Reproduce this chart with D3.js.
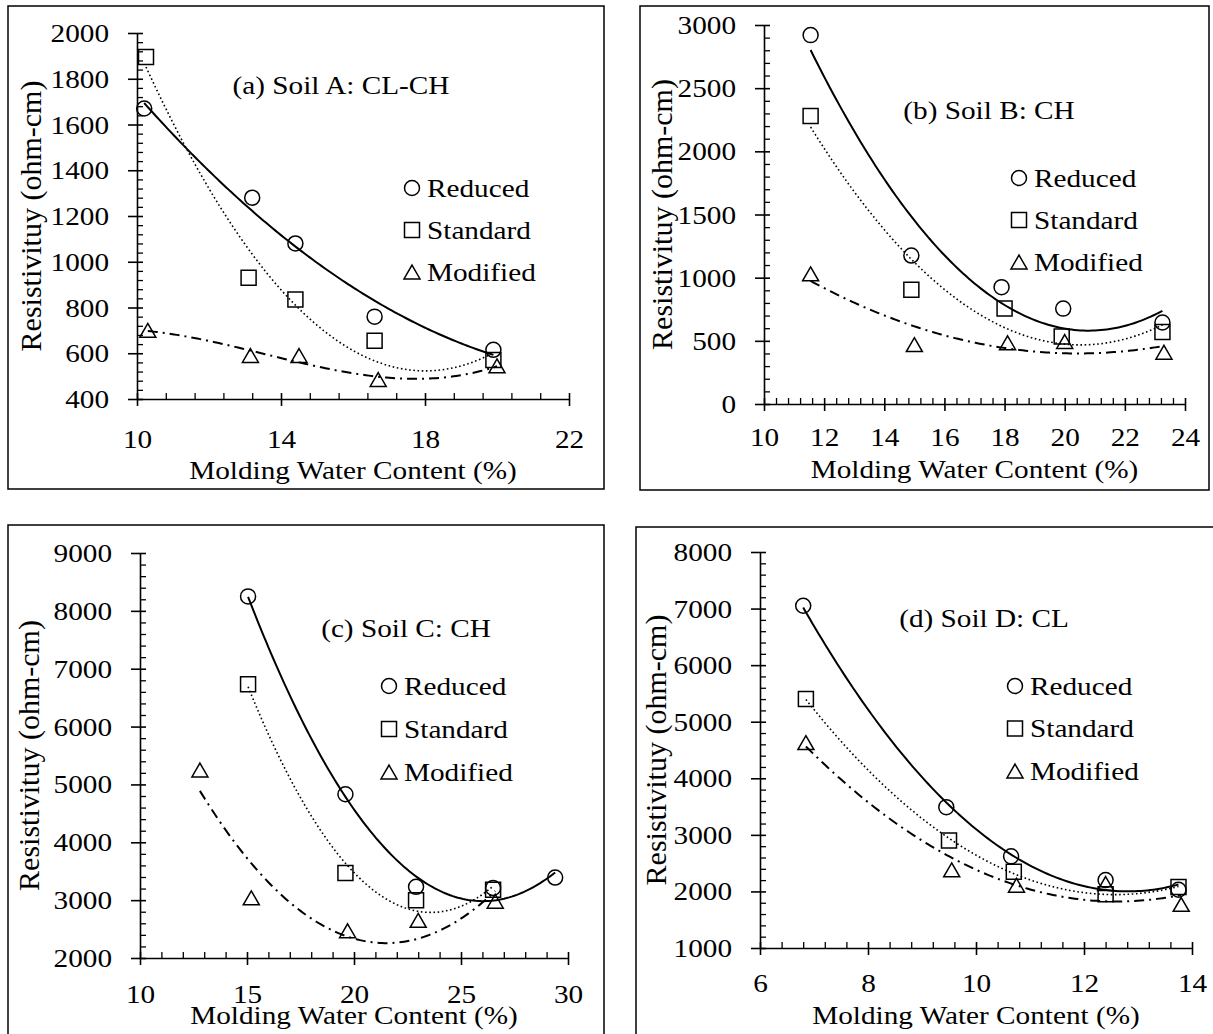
<!DOCTYPE html>
<html>
<head>
<meta charset="utf-8">
<script src="https://cdn.jsdelivr.net/npm/d3@7.9.0/dist/d3.min.js"></script>
<style>
  body { margin: 0; background: #fff; }
  svg { display: block; }
  svg text { font-family: 'Liberation Serif', 'Times New Roman', 'DejaVu Serif', serif; }
</style>
</head>
<body>
<svg id="chart" width="1213" height="1034"></svg>
<script>
// Soil A: CL-CH  (molding water content %, resistivity ohm-cm)
const aReducedW = [10.2, 13.2, 14.4, 16.6, 19.9];
const aReducedR = [1670, 1280, 1080, 760, 615];
const aStandardW = [10.25, 13.1, 14.4, 16.6, 19.9];
const aStandardR = [1895, 930, 835, 655, 570];
const aModifiedW = [10.3, 13.15, 14.5, 16.7, 20.0];
const aModifiedR = [700, 590, 590, 485, 545];

// Soil B: CH
const bReducedW = [11.55, 14.9, 17.9, 19.95, 23.25];
const bReducedR = [2920, 1175, 925, 755, 645];
const bStandardW = [11.55, 14.9, 18.0, 19.9, 23.25];
const bStandardR = [2280, 905, 755, 535, 570];
const bModifiedW = [11.55, 15.0, 18.1, 20.0, 23.3];
const bModifiedR = [1030, 470, 485, 495, 410];

// Soil C: CH
const cReducedW = [15.05, 19.6, 22.9, 26.5, 29.4];
const cReducedR = [8250, 4830, 3230, 3210, 3390];
const cStandardW = [15.05, 19.6, 22.9, 26.5];
const cStandardR = [6730, 3470, 3000, 3180];
const cModifiedW = [12.8, 15.2, 19.7, 23.0, 26.6];
const cModifiedR = [5250, 3040, 2470, 2650, 2980];

// Soil D: CL
const dReducedW = [6.8, 9.45, 10.65, 12.4, 13.75];
const dReducedR = [7050, 3490, 2620, 2200, 2030];
const dStandardW = [6.85, 9.5, 10.7, 12.4, 13.75];
const dStandardR = [5400, 2900, 2350, 1950, 2080];
const dModifiedW = [6.85, 9.55, 10.75, 12.4, 13.8];
const dModifiedR = [4630, 2380, 2110, 2140, 1770];

// axis ticks
const aXTicks = [10, 14, 18, 22];
const aYTicks = [400, 600, 800, 1000, 1200, 1400, 1600, 1800, 2000];
const bXTicks = [10, 12, 14, 16, 18, 20, 22, 24];
const bYTicks = [0, 500, 1000, 1500, 2000, 2500, 3000];
const cXTicks = [10, 15, 20, 25, 30];
const cYTicks = [2000, 3000, 4000, 5000, 6000, 7000, 8000, 9000];
const dXTicks = [6, 8, 10, 12, 14];
const dYTicks = [1000, 2000, 3000, 4000, 5000, 6000, 7000, 8000];

const legendNames = ['Reduced', 'Standard', 'Modified'];
const xTitle = 'Molding Water Content (%)';
const yTitle = 'Resistivituy (ohm-cm)';

const SX = 1.17; // horizontal text is set slightly wide

const symbols = [d3.symbolCircle, d3.symbolSquare, d3.symbolTriangle];
const symbolSizes = [177, 225, 111];
const lineStyles = [
  { width: 2, dash: null },
  { width: 1.6, dash: '1.6 2.6' },
  { width: 2, dash: '10 5 2 5' },
];

const panels = [
  {
    label: '(a) Soil A: CL-CH', frame: [8, 6, 604, 489],
    xDomain: [10, 22], xRange: [137, 569], yDomain: [400, 2000], yRange: [399, 33],
    xTicks: aXTicks, yTicks: aYTicks, xMinor: 0.8, yMinor: 40,
    tickBase: 448, titleBase: 479, yTitleX: 41, labelPos: [341, 94],
    legend: [412, 188, 42], orders: [2, 2, 3],
    series: [[aReducedW, aReducedR], [aStandardW, aStandardR], [aModifiedW, aModifiedR]],
  },
  {
    label: '(b) Soil B: CH', frame: [640, 6, 1209, 490],
    xDomain: [10, 24], xRange: [764, 1185], yDomain: [0, 3000], yRange: [404, 25],
    xTicks: bXTicks, yTicks: bYTicks, xMinor: 0.4, yMinor: 100,
    tickBase: 446, titleBase: 478, yTitleX: 672, labelPos: [989, 119],
    legend: [1019, 178, 42], orders: [2, 2, 2],
    series: [[bReducedW, bReducedR], [bStandardW, bStandardR], [bModifiedW, bModifiedR]],
  },
  {
    label: '(c) Soil C: CH', frame: [8, 525, 604, 1050],
    xDomain: [10, 30], xRange: [140, 568], yDomain: [2000, 9000], yRange: [958, 553],
    xTicks: cXTicks, yTicks: cYTicks, xMinor: 1, yMinor: 200,
    tickBase: 1003, titleBase: 1024, yTitleX: 39, labelPos: [406, 637],
    legend: [389, 686, 43], orders: [2, 2, 2],
    series: [[cReducedW, cReducedR], [cStandardW, cStandardR], [cModifiedW, cModifiedR]],
  },
  {
    label: '(d) Soil D: CL', frame: [636, 527, 1225, 1050],
    xDomain: [6, 14], xRange: [760, 1192], yDomain: [1000, 8000], yRange: [948, 552],
    xTicks: dXTicks, yTicks: dYTicks, xMinor: 0.4, yMinor: 200,
    tickBase: 992, titleBase: 1024, yTitleX: 666, labelPos: [984, 627],
    legend: [1015, 686, 42.5], orders: [2, 2, 2],
    series: [[dReducedW, dReducedR], [dStandardW, dStandardR], [dModifiedW, dModifiedR]],
  },
];

const svg = d3.select('#chart');
svg.append('rect').attr('width', 1213).attr('height', 1034).attr('fill', '#fff');

function wideText(g, str, x, y, anchor) {
  return g.append('text')
    .attr('transform', `translate(${x},${y}) scale(${SX},1)`)
    .attr('text-anchor', anchor)
    .style('font-size', '25px')
    .attr('fill', '#000')
    .text(str);
}

// least-squares polynomial trendline
function polyfit(xs, ys, order) {
  const m = d3.mean(xs);
  const n = order + 1;
  const A = Array.from({ length: n }, () => new Array(n + 1).fill(0));
  xs.forEach((x, i) => {
    const pw = d3.range(2 * n).map((k) => Math.pow(x - m, k));
    for (let r = 0; r < n; r++) {
      for (let c = 0; c < n; c++) A[r][c] += pw[r + c];
      A[r][n] += pw[r] * ys[i];
    }
  });
  for (let p = 0; p < n; p++) {
    let best = p;
    for (let r = p + 1; r < n; r++) if (Math.abs(A[r][p]) > Math.abs(A[best][p])) best = r;
    [A[p], A[best]] = [A[best], A[p]];
    for (let r = 0; r < n; r++) {
      if (r === p) continue;
      const f = A[r][p] / A[p][p];
      for (let c = p; c <= n; c++) A[r][c] -= f * A[p][c];
    }
  }
  const coef = A.map((row, i) => row[n] / row[i]);
  return (x) => coef.reduce((s, c, k) => s + c * Math.pow(x - m, k), 0);
}

function minorTicks(ticks, step) {
  const [lo, hi] = d3.extent(ticks);
  const major = ticks[1] - ticks[0];
  return d3.range(lo, hi + step / 2, step).filter((v) => {
    const q = (v - lo) / major;
    return Math.abs(q - Math.round(q)) > 1e-6;
  });
}

function symbolPath(i) {
  return d3.symbol().type(symbols[i]).size(symbolSizes[i])();
}

// triangles are centred on their box, not their centroid
function symbolOffset(i) {
  return i === 2 ? Math.sqrt(symbolSizes[2] / (Math.sqrt(3) * 3)) / 2 : 0;
}

function drawPanel(p) {
  const g = svg.append('g');
  const [fx0, fy0, fx1, fy1] = p.frame;
  g.append('rect')
    .attr('x', fx0).attr('y', fy0)
    .attr('width', fx1 - fx0).attr('height', fy1 - fy0)
    .attr('fill', 'none').attr('stroke', '#000').attr('stroke-width', 1.5);

  const x = d3.scaleLinear().domain(p.xDomain).range(p.xRange);
  const y = d3.scaleLinear().domain(p.yDomain).range(p.yRange);
  const x0 = p.xRange[0];
  const y0 = p.yRange[0];

  // minor ticks, inside only
  g.append('g')
    .attr('transform', `translate(0,${y0})`)
    .call(d3.axisBottom(x).tickValues(minorTicks(p.xTicks, p.xMinor)).tickSize(-6).tickFormat(''))
    .call((a) => a.select('.domain').remove())
    .selectAll('line').attr('stroke-width', 1.3);
  g.append('g')
    .attr('transform', `translate(${x0},0)`)
    .call(d3.axisLeft(y).tickValues(minorTicks(p.yTicks, p.yMinor)).tickSize(-6).tickFormat(''))
    .call((a) => a.select('.domain').remove())
    .selectAll('line').attr('stroke-width', 1.3);

  // major ticks cross the axis line
  const xa = g.append('g')
    .attr('transform', `translate(0,${y0})`)
    .call(d3.axisBottom(x).tickValues(p.xTicks).tickSizeInner(7).tickSizeOuter(0).tickFormat(d3.format('d')));
  xa.attr('font-family', null);
  xa.select('.domain').attr('stroke-width', 1.6);
  xa.selectAll('.tick line').attr('y1', -6).attr('stroke-width', 1.6);
  xa.selectAll('.tick text')
    .style('font-size', '25px').attr('fill', '#000')
    .attr('y', p.tickBase - y0).attr('dy', null)
    .attr('transform', `scale(${SX},1)`);

  const ya = g.append('g')
    .attr('transform', `translate(${x0},0)`)
    .call(d3.axisLeft(y).tickValues(p.yTicks).tickSizeInner(9).tickSizeOuter(0).tickFormat(d3.format('d')));
  ya.attr('font-family', null);
  ya.select('.domain').attr('stroke-width', 1.6);
  ya.selectAll('.tick line').attr('x1', 6).attr('stroke-width', 1.6);
  ya.selectAll('.tick text')
    .style('font-size', '25px').attr('fill', '#000')
    .attr('x', -28 / SX).attr('y', 8.5).attr('dy', null)
    .attr('transform', `scale(${SX},1)`);

  // axis titles
  wideText(g, xTitle, (p.xRange[0] + p.xRange[1]) / 2, p.titleBase, 'middle');
  g.append('text')
    .attr('transform', `translate(${p.yTitleX},${(p.yRange[0] + p.yRange[1]) / 2}) rotate(-90)`)
    .attr('text-anchor', 'middle')
    .style('font-size', '30px')
    .attr('fill', '#000')
    .text(yTitle);

  // panel label
  wideText(g, p.label, p.labelPos[0], p.labelPos[1], 'middle');

  // trendlines
  const line = d3.line().x((d) => x(d[0])).y((d) => y(d[1]));
  p.series.forEach(([ws, rs], i) => {
    const fit = polyfit(ws, rs, p.orders[i]);
    const [lo, hi] = d3.extent(ws);
    const pts = d3.range(0, 121).map((k) => {
      const w = lo + ((hi - lo) * k) / 120;
      return [w, fit(w)];
    });
    g.append('path')
      .attr('d', line(pts))
      .attr('fill', 'none')
      .attr('stroke', '#000')
      .attr('stroke-width', lineStyles[i].width)
      .attr('stroke-dasharray', lineStyles[i].dash);
  });

  // markers
  p.series.forEach(([ws, rs], i) => {
    g.append('g')
      .selectAll('path')
      .data(ws.map((w, k) => [w, rs[k]]))
      .join('path')
      .attr('transform', (d) => `translate(${x(d[0])},${y(d[1]) + symbolOffset(i)})`)
      .attr('d', symbolPath(i))
      .attr('fill', 'none')
      .attr('stroke', '#000')
      .attr('stroke-width', 1.5);
  });

  // legend
  const [lx, ly, gap] = p.legend;
  legendNames.forEach((name, i) => {
    const cy = ly + i * gap;
    g.append('path')
      .attr('transform', `translate(${lx},${cy + symbolOffset(i)})`)
      .attr('d', symbolPath(i))
      .attr('fill', 'none')
      .attr('stroke', '#000')
      .attr('stroke-width', 1.5);
    wideText(g, name, lx + 15, cy + 8.5, 'start');
  });
}

panels.forEach(drawPanel);
</script>
</body>
</html>
